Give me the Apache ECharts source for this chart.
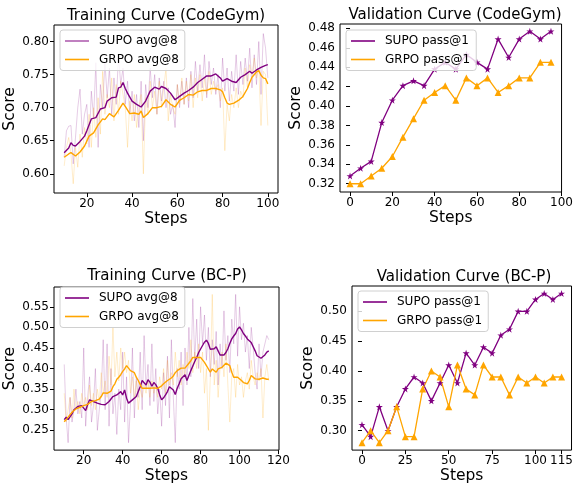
<!DOCTYPE html>
<html>
<head>
<meta charset="utf-8">
<script src="https://cdn.jsdelivr.net/npm/echarts@6/dist/echarts.min.js"></script>
<style>html,body{margin:0;padding:0;background:#fff}#main{width:576px;height:485px}</style>
</head>
<body>
<div id="main"></div>
<script>
// ---- Training Curve (CodeGym): raw values, one per step from cgStart ----
var cgStart = 10;
var cgSupoRaw = [0.625,0.665,0.672,0.673,0.615,0.655,0.700,0.728,0.660,0.690,
  0.705,0.640,0.725,0.685,0.768,0.640,0.735,0.700,0.770,0.715,
  0.760,0.690,0.745,0.705,0.780,0.735,0.760,0.705,0.740,0.690,
  0.725,0.680,0.720,0.670,0.740,0.650,0.735,0.700,0.760,0.715,
  0.750,0.690,0.745,0.710,0.740,0.700,0.730,0.690,0.705,0.670,
  0.735,0.700,0.740,0.705,0.745,0.700,0.755,0.715,0.770,0.725,
  0.765,0.730,0.780,0.715,0.770,0.735,0.760,0.720,0.750,0.700,
  0.775,0.725,0.760,0.710,0.755,0.725,0.780,0.720,0.770,0.735,
  0.775,0.740,0.790,0.730,0.780,0.735,0.800,0.720,0.812,0.790,0.745];
var cgGrpoRaw = [0.612,0.640,0.655,0.630,0.585,0.640,0.610,0.660,0.625,0.670,
  0.645,0.690,0.640,0.700,0.655,0.715,0.660,0.755,0.690,0.720,
  0.700,0.745,0.680,0.735,0.690,0.740,0.720,0.700,0.640,0.710,
  0.680,0.720,0.670,0.700,0.720,0.600,0.715,0.690,0.740,0.700,
  0.725,0.690,0.740,0.700,0.730,0.760,0.680,0.720,0.700,0.690,
  0.735,0.705,0.745,0.705,0.740,0.710,0.750,0.700,0.745,0.715,
  0.750,0.710,0.745,0.720,0.755,0.720,0.740,0.725,0.735,0.710,
  0.730,0.635,0.705,0.680,0.720,0.700,0.730,0.700,0.725,0.715,
  0.760,0.730,0.765,0.750,0.775,0.745,0.760,0.673,0.755,0.750,0.673];
// smoothed curves (steps, values)
var cgSupoSmSteps = [10,12,13,14,15,17,19,20,22,24,26,28,29,31,33,34,35,36,37,38,40,42,44,46,48,50,52,53,55,57,59,61,63,65,67,69,71,73,75,77,79,80,82,84,86,88,90,92,93,95,97,99,100];
var cgSupoSm = [0.632,0.639,0.647,0.643,0.642,0.649,0.657,0.665,0.683,0.685,0.698,0.700,0.710,0.715,0.716,0.730,0.731,0.738,0.729,0.722,0.710,0.705,0.701,0.710,0.725,0.731,0.728,0.732,0.729,0.722,0.712,0.717,0.722,0.726,0.731,0.738,0.743,0.748,0.748,0.751,0.745,0.740,0.744,0.740,0.738,0.746,0.750,0.755,0.752,0.757,0.761,0.764,0.765];
var cgGrpoSmSteps = [10,12,13,15,17,19,21,23,25,27,28,30,32,34,36,37,39,41,43,44,45,47,49,51,53,55,57,59,61,63,65,67,69,71,73,75,77,79,80,81,82,83,85,87,89,91,92,93,95,96,97,98,99,100];
var cgGrpoSm = [0.625,0.630,0.632,0.627,0.633,0.642,0.657,0.662,0.674,0.683,0.682,0.691,0.686,0.696,0.707,0.702,0.691,0.692,0.690,0.695,0.685,0.691,0.700,0.700,0.702,0.712,0.705,0.701,0.711,0.715,0.720,0.719,0.724,0.726,0.726,0.729,0.729,0.727,0.724,0.715,0.707,0.705,0.707,0.711,0.717,0.729,0.738,0.746,0.754,0.756,0.749,0.745,0.744,0.736];

// ---- Validation Curve (CodeGym) ----
var cgValSteps = [0,5,10,15,20,25,30,35,40,45,50,55,60,65,70,75,80,85,90,95];
var cgSupoVal = [0.328,0.336,0.343,0.383,0.406,0.421,0.426,0.421,0.438,0.445,0.438,0.453,0.445,0.438,0.469,0.450,0.469,0.477,0.469,0.477];
var cgGrpoVal = [0.320,0.320,0.328,0.336,0.348,0.368,0.387,0.406,0.414,0.421,0.406,0.429,0.421,0.429,0.414,0.421,0.429,0.429,0.445,0.445];

// ---- Training Curve (BC-P) ----
var bcStart = 10;
var bcSupoRaw = [0.41,0.28,0.22,0.33,0.27,0.30,0.35,0.29,0.32,0.28,
  0.45,0.26,0.33,0.38,0.27,0.31,0.40,0.25,0.30,0.34,
  0.47,0.30,0.46,0.26,0.40,0.29,0.34,0.24,0.35,0.30,
  0.44,0.27,0.38,0.22,0.31,0.45,0.28,0.38,0.33,0.44,
  0.30,0.48,0.35,0.41,0.31,0.46,0.32,0.40,0.29,0.35,
  0.26,0.39,0.31,0.43,0.28,0.47,0.33,0.22,0.40,0.35,
  0.44,0.31,0.45,0.36,0.50,0.38,0.57,0.42,0.52,0.40,
  0.55,0.46,0.53,0.42,0.50,0.38,0.47,0.41,0.49,0.36,
  0.46,0.40,0.54,0.42,0.48,0.39,0.52,0.46,0.58,0.43,
  0.55,0.47,0.51,0.44,0.48,0.40,0.50,0.45,0.39,0.35,
  0.46,0.38,0.44,0.46,0.48,0.47];
var bcGrpoRaw = [0.34,0.27,0.30,0.33,0.28,0.35,0.30,0.32,0.29,0.34,
  0.31,0.33,0.30,0.36,0.31,0.34,0.30,0.35,0.32,0.39,
  0.34,0.37,0.33,0.43,0.36,0.50,0.38,0.44,0.37,0.45,
  0.40,0.44,0.39,0.42,0.34,0.38,0.33,0.37,0.30,0.35,
  0.33,0.36,0.34,0.37,0.33,0.37,0.34,0.36,0.33,0.38,
  0.35,0.40,0.34,0.42,0.36,0.39,0.36,0.44,0.38,0.42,
  0.36,0.41,0.38,0.44,0.40,0.47,0.39,0.44,0.40,0.46,
  0.39,0.44,0.34,0.40,0.25,0.38,0.58,0.36,0.42,0.33,
  0.40,0.44,0.38,0.46,0.36,0.27,0.38,0.40,0.33,0.41,
  0.36,0.38,0.33,0.37,0.39,0.35,0.42,0.38,0.36,0.39,
  0.37,0.40,0.28,0.38,0.41,0.37];
var bcSupoSmSteps = [10,11,12,13,14,15,17,18,19,20,21,22,23,24,25,27,29,31,33,35,37,39,40,41,42,43,44,45,46,47,48,49,50,51,52,53,54,55,56,57,58,59,60,61,62,63,64,65,66,67,68,69,70,71,72,73,74,75,76,77,78,79,80,81,82,83,84,85,86,87,88,89,90,91,92,93,94,95,96,97,98,99,100,101,102,103,104,105,106,107,108,109,110,111,112,113,114,115];
var bcSupoSm = [0.276,0.282,0.276,0.280,0.290,0.300,0.308,0.306,0.310,0.308,0.298,0.312,0.324,0.321,0.320,0.316,0.313,0.312,0.320,0.332,0.336,0.344,0.336,0.348,0.328,0.316,0.320,0.324,0.324,0.332,0.344,0.356,0.371,0.371,0.360,0.373,0.367,0.357,0.366,0.361,0.352,0.336,0.324,0.329,0.336,0.344,0.356,0.358,0.348,0.337,0.352,0.363,0.375,0.379,0.385,0.371,0.383,0.395,0.399,0.417,0.427,0.439,0.443,0.456,0.464,0.469,0.461,0.447,0.443,0.448,0.453,0.443,0.433,0.433,0.433,0.439,0.448,0.461,0.472,0.479,0.485,0.496,0.501,0.494,0.485,0.479,0.472,0.475,0.463,0.453,0.443,0.431,0.427,0.425,0.427,0.433,0.440,0.443];
var bcGrpoSmSteps = [10,11,12,13,14,15,16,17,18,19,20,22,24,26,28,29,30,31,32,33,34,35,36,37,38,39,40,41,42,43,44,45,46,47,48,49,50,51,52,53,54,55,56,57,58,59,60,61,62,63,64,65,66,67,68,69,70,71,72,73,74,75,76,77,78,79,80,81,82,83,84,85,86,87,88,89,90,91,92,93,94,95,96,97,98,99,100,101,102,103,104,105,106,107,108,109,110,111,112,113,114,115];
var bcGrpoSm = [0.271,0.274,0.282,0.288,0.294,0.298,0.302,0.306,0.306,0.308,0.310,0.313,0.320,0.322,0.326,0.332,0.341,0.344,0.340,0.337,0.345,0.356,0.363,0.374,0.379,0.385,0.393,0.399,0.407,0.409,0.395,0.391,0.390,0.379,0.371,0.361,0.352,0.348,0.352,0.353,0.352,0.353,0.353,0.352,0.352,0.356,0.358,0.363,0.367,0.371,0.375,0.377,0.382,0.390,0.395,0.399,0.401,0.399,0.401,0.403,0.413,0.419,0.427,0.429,0.427,0.423,0.427,0.423,0.415,0.407,0.403,0.391,0.399,0.395,0.391,0.399,0.401,0.403,0.407,0.413,0.415,0.407,0.391,0.379,0.377,0.379,0.377,0.371,0.366,0.363,0.363,0.371,0.383,0.384,0.375,0.371,0.374,0.375,0.377,0.375,0.374,0.374];

// ---- Validation Curve (BC-P) ----
var bcValSteps = [0,5,10,15,20,25,30,35,40,45,50,55,60,65,70,75,80,85,90,95,100,105,110,115];
var bcSupoVal = [0.31,0.29,0.34,0.30,0.34,0.37,0.39,0.38,0.35,0.38,0.41,0.38,0.43,0.41,0.44,0.43,0.46,0.47,0.50,0.50,0.52,0.53,0.52,0.53];
var bcGrpoVal = [0.28,0.30,0.28,0.30,0.34,0.29,0.29,0.37,0.40,0.39,0.34,0.41,0.37,0.36,0.41,0.39,0.39,0.36,0.39,0.38,0.39,0.38,0.39,0.39];

// tick labels
var xTicks1 = [20,40,60,80,100];
var yTicks1 = [0.60,0.65,0.70,0.75,0.80];
var xTicks2 = [0,20,40,60,80,100];
var yTicks2 = [0.32,0.34,0.36,0.38,0.40,0.42,0.44,0.46,0.48];
var xTicks3 = [20,40,60,80,100,120];
var yTicks3 = [0.25,0.30,0.35,0.40,0.45,0.50,0.55];
var xTicks4 = [0,25,50,75,100,115];
var yTicks4 = [0.30,0.35,0.40,0.45,0.50];

var PURPLE = '#800080', ORANGE = '#FFA500';
var FONT = 'DejaVu Sans';
var STAR = 'path://M100,0L122.45,69.1L195.1,69.1L136.33,111.8L158.8,180.9L100,138.2L41.2,180.9L63.67,111.8L4.9,69.1L77.55,69.1Z';

function pairs(xs, ys) { return xs.map(function (x, i) { return [x, ys[i]]; }); }
function fromStart(s, ys) { return ys.map(function (y, i) { return [s + i, y]; }); }

function xAx(i, min, max, ticks) {
  return {
    type: 'value', gridIndex: i, min: min, max: max,
    name: 'Steps', nameLocation: 'middle', nameGap: 17,
    nameTextStyle: { fontSize: 15.5, color: '#000', fontFamily: FONT },
    axisLine: { show: false },
    axisTick: { show: true, length: 4, lineStyle: { color: '#000' }, customValues: ticks },
    axisLabel: { customValues: ticks, fontSize: 12, color: '#000', margin: 5, fontFamily: FONT },
    splitLine: { show: false }
  };
}
function yAx(i, min, max, ticks) {
  return {
    type: 'value', gridIndex: i, min: min, max: max,
    name: 'Score', nameLocation: 'middle', nameGap: 30,
    nameTextStyle: { fontSize: 15.5, color: '#000', fontFamily: FONT },
    axisLine: { show: false },
    axisTick: { show: true, length: 4, lineStyle: { color: '#000' }, customValues: ticks },
    axisLabel: { customValues: ticks, fontSize: 12, color: '#000', margin: 5, fontFamily: FONT,
      formatter: function (v) { return v.toFixed(2); } },
    splitLine: { show: false }
  };
}
function raw(name, i, data, color) {
  return { name: name, type: 'line', xAxisIndex: i, yAxisIndex: i, data: data, symbol: 'none',
    silent: true, z: 1, lineStyle: { width: 1, color: color, opacity: 0.2 }, itemStyle: { color: color } };
}
function smooth(name, i, data, color) {
  return { name: name, type: 'line', xAxisIndex: i, yAxisIndex: i, data: data, symbol: 'none',
    z: 3, lineStyle: { width: 1.4, color: color }, itemStyle: { color: color } };
}
function val(name, i, data, color, sym) {
  return { name: name, type: 'line', xAxisIndex: i, yAxisIndex: i, data: data, symbol: sym,
    symbolSize: 7, z: 3, lineStyle: { width: 1.3, color: color }, itemStyle: { color: color } };
}
function leg(left, top, items) {
  return {
    orient: 'vertical', left: left, top: top, icon: 'rect', itemWidth: 24, itemHeight: 1.6, itemGap: 4.5,
    padding: [4, 6, 4, 5], borderColor: '#d0d0d0', borderWidth: 1, borderRadius: 3,
    backgroundColor: 'rgba(255,255,255,0.8)', selectedMode: false,
    textStyle: { fontSize: 12, color: '#000', fontFamily: FONT, lineHeight: 14, padding: [0, 0, 0, 5] },
    data: items
  };
}
function title(x, y, text) {
  return { type: 'text', x: x, y: y, style: { text: text, fill: '#000', font: '15px "DejaVu Sans"', align: 'center', verticalAlign: 'middle' } };
}

var myChart = echarts.init(document.getElementById('main'), null, { renderer: 'canvas' });

var option = {
  animation: false,
  backgroundColor: '#fff',
  grid: [
    { left: 54, top: 25, width: 224, height: 168, show: true, borderColor: '#000', borderWidth: 1, backgroundColor: 'transparent' },
    { left: 340, top: 24, width: 225, height: 168, show: true, borderColor: '#000', borderWidth: 1, backgroundColor: 'transparent' },
    { left: 54, top: 287, width: 225, height: 165, show: true, borderColor: '#000', borderWidth: 1, backgroundColor: 'transparent' },
    { left: 352, top: 286, width: 223, height: 166, show: true, borderColor: '#000', borderWidth: 1, backgroundColor: 'transparent' }
  ],
  xAxis: [
    xAx(0, 5.5, 104.5, xTicks1),
    xAx(1, -4.75, 100, xTicks2),
    xAx(2, 4.75, 120.25, xTicks3),
    xAx(3, -5.75, 120.75, xTicks4)
  ],
  yAxis: [
    yAx(0, 0.571, 0.825, yTicks1),
    yAx(1, 0.3115, 0.4845, yTicks2),
    yAx(2, 0.202, 0.598, yTicks3),
    yAx(3, 0.2675, 0.5425, yTicks4)
  ],
  legend: [
    leg(60, 30, [{ name: 'SUPO avg@8', itemStyle: { color: '#b060b0' } }, { name: 'GRPO avg@8' }]),
    leg(346, 30, ['SUPO pass@1', 'GRPO pass@1']),
    leg(60, 287, ['SUPO avg@8', 'GRPO avg@8']),
    leg(358, 291, ['SUPO pass@1', 'GRPO pass@1'])
  ],
  graphic: [
    title(166, 16, 'Training Curve (CodeGym)'),
    title(455, 15, 'Validation Curve (CodeGym)'),
    title(167, 276, 'Training Curve (BC-P)'),
    title(464, 277, 'Validation Curve (BC-P)')
  ],
  series: [
    raw('SUPO raw', 0, fromStart(cgStart, cgSupoRaw), PURPLE),
    raw('GRPO raw', 0, fromStart(cgStart, cgGrpoRaw), ORANGE),
    smooth('SUPO avg@8', 0, pairs(cgSupoSmSteps, cgSupoSm), PURPLE),
    smooth('GRPO avg@8', 0, pairs(cgGrpoSmSteps, cgGrpoSm), ORANGE),
    val('SUPO pass@1', 1, pairs(cgValSteps, cgSupoVal), PURPLE, STAR),
    val('GRPO pass@1', 1, pairs(cgValSteps, cgGrpoVal), ORANGE, 'triangle'),
    raw('SUPO raw ', 2, fromStart(bcStart, bcSupoRaw), PURPLE),
    raw('GRPO raw ', 2, fromStart(bcStart, bcGrpoRaw), ORANGE),
    smooth('SUPO avg@8', 2, pairs(bcSupoSmSteps, bcSupoSm), PURPLE),
    smooth('GRPO avg@8', 2, pairs(bcGrpoSmSteps, bcGrpoSm), ORANGE),
    val('SUPO pass@1', 3, pairs(bcValSteps, bcSupoVal), PURPLE, STAR),
    val('GRPO pass@1', 3, pairs(bcValSteps, bcGrpoVal), ORANGE, 'triangle')
  ]
};
myChart.setOption(option);

window.addEventListener('resize', function () { myChart.resize(); });
</script>
</body>
</html>
